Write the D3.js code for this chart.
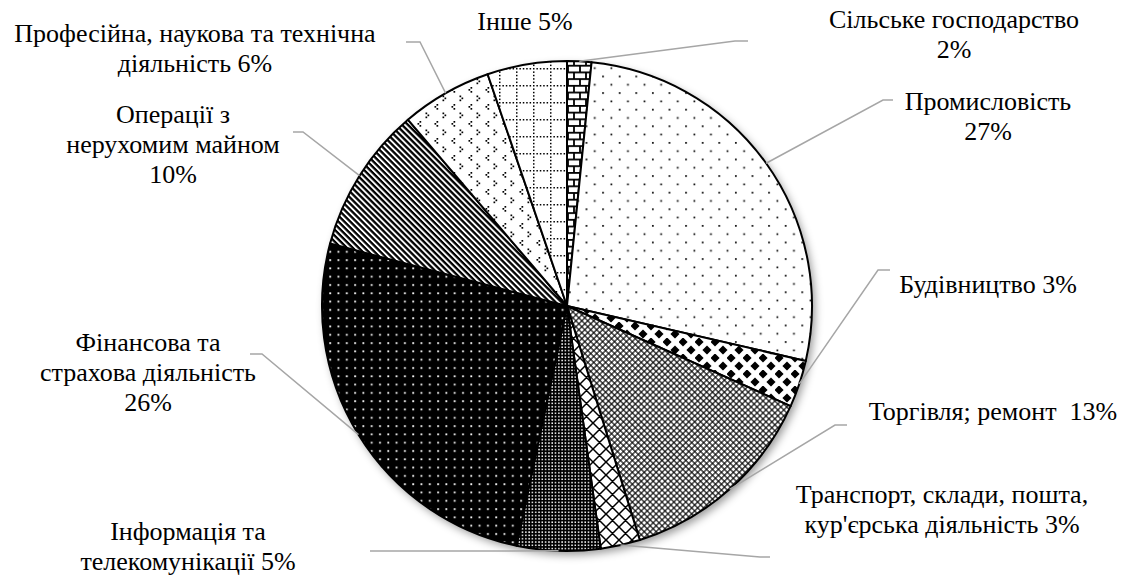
<!DOCTYPE html>
<html>
<head>
<meta charset="utf-8">
<script src="https://cdn.jsdelivr.net/npm/d3@7"></script>
<style>
  html, body { margin: 0; padding: 0; background: #fff; }
  svg { display: block; }
</style>
</head>
<body>
<svg id="chart" width="1129" height="583"></svg>
<script>
// ---- data ----
const categories = [
  "Сільське господарство",
  "Промисловість",
  "Будівництво",
  "Торгівля; ремонт",
  "Транспорт, склади, пошта, кур'єрська діяльність",
  "Інформація та телекомунікації",
  "Фінансова та страхова діяльність",
  "Операції з нерухомим майном",
  "Професійна, наукова та технічна діяльність",
  "Інше"
];
const values = [1.6, 27.0, 3.1, 13.5, 2.6, 5.5, 25.8, 9.65, 6.0, 5.25];
const percentLabels = ["2%", "27%", "3%", "13%", "3%", "5%", "26%", "10%", "6%", "5%"];
const labelLines = [
  ["Сільське господарство", "2%"],
  ["Промисловість", "27%"],
  ["Будівництво 3%"],
  ["Торгівля; ремонт\u00a0\u00a013%"],
  ["Транспорт, склади, пошта,", "кур'єрська діяльність 3%"],
  ["Інформація та", "телекомунікації 5%"],
  ["Фінансова та", "страхова діяльність", "26%"],
  ["Операції з", "нерухомим майном", "10%"],
  ["Професійна, наукова та технічна", "діяльність 6%"],
  ["Інше 5%"]
];

// ---- layout (positions only) ----
const cx = 567, cy = 306, R = 245;
const fontSize = 26, lineH = 30;
const fontFamily = "'Liberation Serif', 'Times New Roman', 'Tinos', 'Nimbus Roman'";
const labelPos = [
  { x: 954, y: 28, elbow: [735, 41], end: [748, 41] },
  { x: 988, y: 110, elbow: [883, 100], end: [893, 100] },
  { x: 988, y: 293, elbow: [878, 270], end: [890, 270] },
  { x: 993, y: 420, elbow: [835, 425], end: [847, 425] },
  { x: 942, y: 503, elbow: [760, 557], end: [770, 557] },
  { x: 188, y: 540, elbow: [382, 551], end: [370, 551] },
  { x: 148, y: 351, elbow: [262, 354], end: [250, 354] },
  { x: 173, y: 123, elbow: [303, 132], end: [293, 132] },
  { x: 195, y: 42, elbow: [420, 42], end: [406, 42] },
  { x: 525, y: 30, elbow: null, end: null }
];

const svg = d3.select("#chart");
const defs = svg.append("defs");

const f = defs.append("filter").attr("id", "shadow")
  .attr("x", "-10%").attr("y", "-10%").attr("width", "125%").attr("height", "125%");
f.append("feDropShadow").attr("dx", 3).attr("dy", 4).attr("stdDeviation", 4)
  .attr("flood-color", "#000").attr("flood-opacity", 0.4);

function pat(id, w, h, transform) {
  const p = defs.append("pattern").attr("id", id)
    .attr("patternUnits", "userSpaceOnUse").attr("width", w).attr("height", h);
  if (transform) p.attr("patternTransform", transform);
  return p;
}
// 0 bricks
{
  const p = pat("p0", 12, 13.4);
  p.append("rect").attr("width", 12).attr("height", 13.4).attr("fill", "#fff");
  const g = p.append("g").attr("stroke", "#000").attr("stroke-width", 1.8);
  g.append("line").attr("x1", 0).attr("x2", 12).attr("y1", 0.9).attr("y2", 0.9);
  g.append("line").attr("x1", 0).attr("x2", 12).attr("y1", 7.6).attr("y2", 7.6);
  g.append("line").attr("x1", 1).attr("x2", 1).attr("y1", 0).attr("y2", 7.6);
  g.append("line").attr("x1", 7).attr("x2", 7).attr("y1", 7.6).attr("y2", 13.4);
}
// 1 sparse dots
{
  const p = pat("p1", 16.6, 16.6);
  p.append("rect").attr("width", 16.6).attr("height", 16.6).attr("fill", "#fff");
  p.append("rect").attr("x", 2).attr("y", 2).attr("width", 1.7).attr("height", 1.7).attr("fill", "#000");
  p.append("rect").attr("x", 10.3).attr("y", 10.3).attr("width", 1.7).attr("height", 1.7).attr("fill", "#000");
}
// 2 diamonds
{
  const p = pat("p2", 16, 16);
  p.append("rect").attr("width", 16).attr("height", 16).attr("fill", "#fff");
  const d = (x, y, r) => `M${x},${y - r}L${x + r},${y}L${x},${y + r}L${x - r},${y}Z`;
  p.append("path").attr("d", d(4, 4, 4.6) + d(12, 12, 4.6) + d(-4, 12, 4.6) + d(12, -4, 4.6) + d(20, 12, 4.6) + d(12, 20, 4.6))
    .attr("fill", "#000");
}
// 3 lattice
{
  const p = pat("p3", 4.2, 4.2, "rotate(45)");
  p.append("rect").attr("width", 4.2).attr("height", 4.2).attr("fill", "#000");
  p.append("rect").attr("x", 0.55).attr("y", 0.55).attr("width", 3.1).attr("height", 3.1).attr("fill", "#fff");
}
// 4 open diagonal lattice
{
  const p = pat("p4", 13, 13);
  p.append("rect").attr("width", 13).attr("height", 13).attr("fill", "#fff");
  p.append("path").attr("d", "M0,0L13,13M13,0L0,13M-1,1L1,-1M12,14L14,12M-1,12L1,14M12,-1L14,1")
    .attr("stroke", "#000").attr("stroke-width", 1.5);
}
// 5 dense white dots on black
{
  const p = pat("p5", 3.3, 3.3);
  p.append("rect").attr("width", 3.3).attr("height", 3.3).attr("fill", "#000");
  p.append("rect").attr("x", 1).attr("y", 1).attr("width", 1.5).attr("height", 1.5).attr("fill", "#fff");
}
// 6 sparse white dots on black
{
  const p = pat("p6", 8.3, 8.3);
  p.append("rect").attr("width", 8.3).attr("height", 8.3).attr("fill", "#000");
  p.append("rect").attr("x", 3).attr("y", 3).attr("width", 1.8).attr("height", 1.8).attr("fill", "#fff");
}
// 7 diagonal stripes
{
  const p = pat("p7", 4.2, 4.2, "rotate(45)");
  p.append("rect").attr("width", 4.2).attr("height", 4.2).attr("fill", "#fff");
  p.append("rect").attr("width", 4.2).attr("height", 2.3).attr("fill", "#000");
}
// 8 chevrons
{
  const p = pat("p8", 17, 17);
  p.append("rect").attr("width", 17).attr("height", 17).attr("fill", "#fff");
  const pts = [[5.5, 2], [3.5, 4], [5.5, 6], [11.5, 10.5], [13.5, 12.5], [11.5, 14.5]];
  pts.forEach(([x, y]) => p.append("rect").attr("x", x).attr("y", y).attr("width", 1.7).attr("height", 1.7).attr("fill", "#000"));
}
// 9 dotted grid
{
  const p = pat("p9", 17, 17);
  p.append("rect").attr("width", 17).attr("height", 17).attr("fill", "#fff");
  for (let i = 0; i < 17; i += 3.4) {
    p.append("rect").attr("x", i).attr("y", 0).attr("width", 1.5).attr("height", 1.5).attr("fill", "#000");
    if (i > 0) p.append("rect").attr("x", 0).attr("y", i).attr("width", 1.5).attr("height", 1.5).attr("fill", "#000");
  }
}

// ---- pie ----
const pie = d3.pie().sort(null).value(d => d).startAngle(0).endAngle(2 * Math.PI);
const arcs = pie(values);
const arc = d3.arc().innerRadius(0).outerRadius(R);
const edgeArc = d3.arc().innerRadius(R).outerRadius(R);

const g = svg.append("g").attr("transform", `translate(${cx},${cy})`);
g.append("circle").attr("r", R).attr("fill", "#fff").attr("filter", "url(#shadow)");

g.selectAll("path.slice").data(arcs).enter().append("path")
  .attr("class", "slice")
  .attr("d", arc)
  .attr("fill", (d, i) => `url(#p${i})`)
  .attr("stroke", "#000").attr("stroke-width", 2).attr("stroke-linejoin", "round");

// ---- leader lines ----
arcs.forEach((d, i) => {
  const lp = labelPos[i];
  if (!lp.elbow) return;
  const c = edgeArc.centroid(d);
  const pts = [[c[0] + cx, c[1] + cy], lp.elbow, lp.end];
  svg.append("path").attr("d", d3.line()(pts))
    .attr("fill", "none").attr("stroke", "#a6a6a6").attr("stroke-width", 1.5);
});

// ---- labels ----
labelLines.forEach((lines, i) => {
  const lp = labelPos[i];
  const t = svg.append("text").attr("text-anchor", "middle")
    .attr("font-size", fontSize).style("font-family", fontFamily).attr("fill", "#000");
  lines.forEach((s, k) => t.append("tspan").attr("x", lp.x).attr("y", lp.y + k * lineH).text(s));
});
</script>
</body>
</html>
